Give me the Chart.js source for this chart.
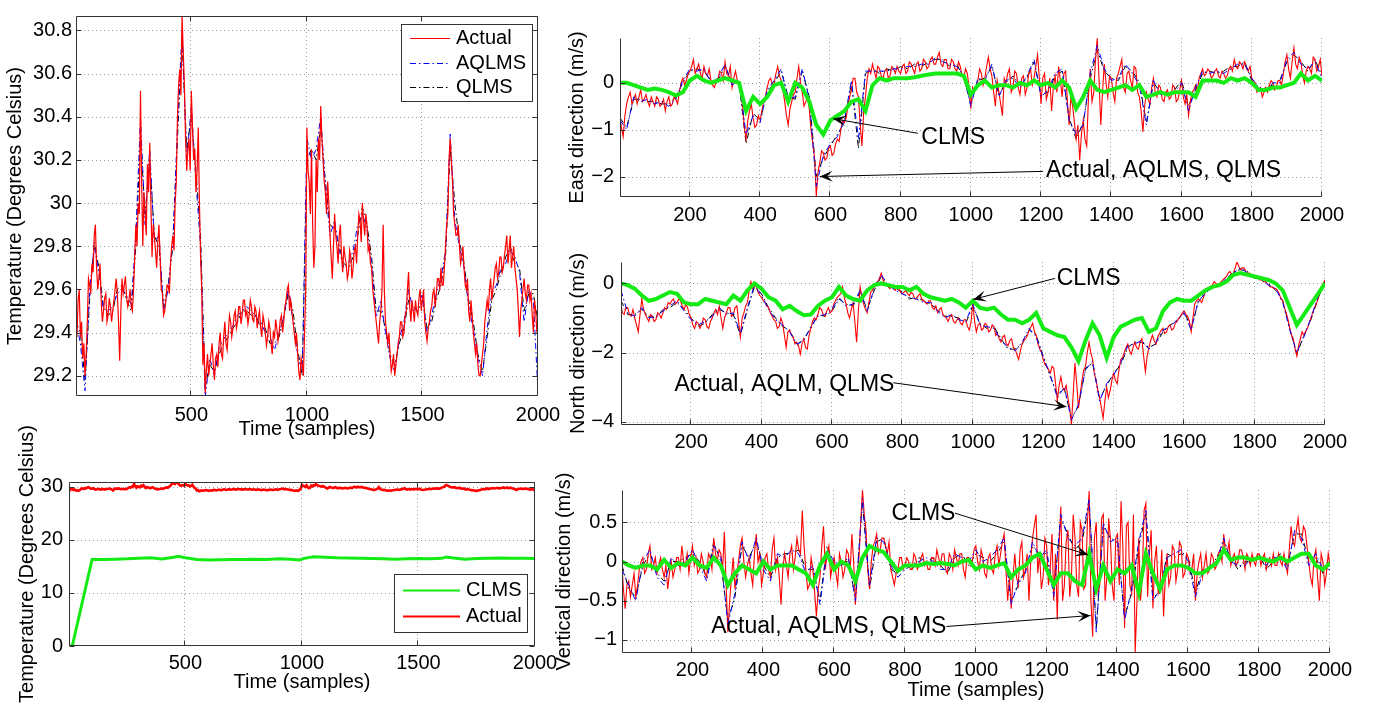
<!DOCTYPE html>
<html><head><meta charset="utf-8">
<script src="https://cdn.jsdelivr.net/npm/chart.js@4.4.1/dist/chart.umd.min.js"></script>
<style>
html,body{margin:0;padding:0;background:#fff;width:1377px;height:706px;overflow:hidden;position:relative}
canvas{position:absolute}
</style></head><body>
<canvas id="cA"></canvas><canvas id="cB"></canvas><canvas id="cE"></canvas><canvas id="cN"></canvas><canvas id="cV"></canvas>
<script>
// ---------------- DATA ----------------
// Actual series: values at samples 1,10,20,...,2000 and in-between values at samples 5,15,...,1995
const tempActual = [
29.45,29.55,29.38,29.28,29.2,29.45,29.62,29.72,29.85,29.7,
29.65,29.55,29.5,29.58,29.48,29.52,29.5,29.6,29.58,29.27,
29.65,29.62,29.56,29.55,29.52,29.6,29.9,30.0,30.52,29.8,
29.95,30.18,30.28,29.75,29.85,29.7,29.9,29.6,29.48,29.55,
29.62,29.72,29.85,30.0,30.4,30.62,30.87,30.55,30.15,30.3,
30.52,30.2,30.05,30.35,29.75,29.25,29.12,29.3,29.25,29.35,
29.18,29.3,29.35,29.3,29.38,29.35,29.4,29.45,29.42,29.5,
29.45,29.52,29.48,29.55,29.5,29.48,29.52,29.45,29.5,29.47,
29.42,29.48,29.4,29.38,29.42,29.3,29.38,29.42,29.4,29.48,
29.45,29.55,29.62,29.55,29.45,29.35,29.3,29.18,29.25,29.4,
30.35,30.1,30.25,29.7,30.2,30.3,30.45,30.2,30.05,30.1,
29.85,29.65,29.95,29.8,29.85,29.75,29.8,29.72,29.68,29.75,
29.7,29.8,29.85,29.92,30.0,29.85,29.9,29.8,29.7,29.55,
29.45,29.35,29.5,29.9,29.45,29.35,29.3,29.25,29.2,29.3,
29.38,29.45,29.4,29.5,29.68,29.45,29.5,29.55,29.48,29.6,
29.55,29.45,29.36,29.45,29.52,29.6,29.58,29.65,29.7,29.62,
29.8,29.95,30.3,30.1,29.9,29.85,29.8,29.75,29.7,29.6,
29.5,29.55,29.4,29.3,29.25,29.2,29.3,29.45,29.55,29.6,
29.55,29.65,29.72,29.68,29.75,29.7,29.8,29.72,29.85,29.75,
29.7,29.6,29.38,29.55,29.65,29.55,29.62,29.58,29.4,29.5,
29.45];
const tempActualMid = [
29.38,29.6,29.45,29.35,29.3,29.65,29.58,29.68,29.9,29.6,
29.72,29.45,29.56,29.45,29.56,29.45,29.55,29.65,29.45,29.5,
29.58,29.66,29.52,29.6,29.5,29.75,29.8,29.95,30.1,30.05,
29.85,30.05,30.0,29.9,29.78,29.82,29.75,29.58,29.5,29.62,
29.58,29.8,29.78,30.1,30.55,30.5,30.7,30.3,30.25,30.15,
30.35,30.25,30.15,30.0,29.6,29.35,29.22,29.2,29.3,29.25,
29.28,29.24,29.4,29.28,29.45,29.32,29.48,29.38,29.48,29.42,
29.52,29.44,29.55,29.48,29.44,29.55,29.46,29.52,29.42,29.5,
29.38,29.45,29.34,29.45,29.35,29.4,29.46,29.36,29.46,29.4,
29.52,29.6,29.5,29.5,29.4,29.4,29.22,29.28,29.2,29.6,
30.15,29.95,29.9,29.8,30.05,30.2,30.3,30.1,29.95,30.0,
29.75,29.8,29.85,29.72,29.9,29.68,29.75,29.65,29.78,29.65,
29.78,29.72,29.95,29.82,29.92,29.95,29.78,29.72,29.6,29.5,
29.4,29.45,29.6,29.6,29.4,29.4,29.22,29.3,29.25,29.35,
29.45,29.38,29.48,29.6,29.52,29.55,29.45,29.5,29.56,29.5,
29.6,29.4,29.42,29.5,29.58,29.52,29.65,29.6,29.62,29.7,
29.9,30.2,30.2,29.95,29.85,29.9,29.72,29.8,29.62,29.65,
29.45,29.48,29.35,29.35,29.2,29.25,29.35,29.5,29.5,29.65,
29.6,29.7,29.65,29.75,29.68,29.76,29.85,29.78,29.7,29.8,
29.65,29.5,29.5,29.6,29.58,29.62,29.55,29.48,29.55,29.4];
// Predictions every 20 samples
const tempAqlms = [
29.45,29.35,29.13,29.6,29.8,29.68,29.5,29.5,29.52,29.58,
29.6,29.57,29.53,29.85,30.4,29.9,30.25,29.82,29.85,29.5,
29.6,29.82,30.35,30.8,30.2,30.45,30.1,29.8,29.1,29.28,
29.2,29.33,29.37,29.4,29.43,29.48,29.5,29.52,29.5,29.47,
29.45,29.4,29.38,29.32,29.4,29.47,29.6,29.45,29.3,29.22,
30.3,30.2,30.25,30.4,30.08,29.85,29.92,29.78,29.7,29.72,
29.78,29.9,29.95,29.88,29.72,29.47,29.55,29.4,29.28,29.22,
29.37,29.45,29.6,29.5,29.52,29.58,29.4,29.48,29.58,29.65,
29.78,30.32,29.92,29.8,29.7,29.52,29.42,29.28,29.2,29.42,
29.58,29.62,29.7,29.72,29.78,29.75,29.68,29.45,29.6,29.55,
29.12];
const tempQlms = [
29.45,29.4,29.18,29.55,29.82,29.7,29.52,29.48,29.5,29.6,
29.62,29.55,29.5,29.8,30.3,29.95,30.2,29.85,29.8,29.52,
29.62,29.8,30.3,30.75,30.25,30.4,30.15,29.85,29.15,29.25,
29.22,29.3,29.35,29.38,29.42,29.45,29.5,29.5,29.48,29.48,
29.42,29.42,29.35,29.35,29.38,29.48,29.58,29.5,29.32,29.2,
30.2,30.25,30.2,30.35,30.1,29.9,29.88,29.8,29.72,29.7,
29.75,29.85,29.98,29.9,29.75,29.5,29.5,29.42,29.3,29.25,
29.35,29.42,29.55,29.52,29.5,29.55,29.42,29.45,29.55,29.62,
29.75,30.25,30.0,29.82,29.72,29.55,29.45,29.3,29.22,29.38,
29.55,29.6,29.68,29.75,29.8,29.72,29.7,29.5,29.58,29.58,
29.45];
// CLMS temperature estimate (bottom-left)
const tempClmsSamples = [1,15,100,150,200,250,300,350,400,450,470,500,550,600,650,700,750,800,850,900,950,990,1010,1050,1100,1150,1200,1250,1300,1350,1400,1450,1500,1550,1600,1620,1650,1700,1750,1800,1850,1900,1950,2000];
const tempClms = [0,0,16.3,16.3,16.35,16.4,16.5,16.6,16.4,16.7,16.9,16.6,16.3,16.2,16.25,16.3,16.3,16.35,16.3,16.4,16.35,16.2,16.5,16.8,16.7,16.6,16.55,16.5,16.45,16.4,16.35,16.4,16.45,16.4,16.5,16.75,16.55,16.35,16.45,16.5,16.55,16.5,16.5,16.45];

// East wind
const eastActual = [
-0.75,-1.15,-0.45,-0.2,-0.35,-0.45,-0.15,-0.35,-0.4,-0.3,
-0.5,-0.35,-0.45,-0.6,-0.3,-0.45,-0.35,-0.2,0.1,0.05,
0.25,0.5,0.3,0.2,0.35,0.15,0.05,-0.1,0.1,0.2,
0.45,0.15,-0.1,0.25,0.0,-0.5,-1.2,-0.6,-0.75,-0.9,
-0.8,-0.4,-0.1,0.1,0.0,0.35,0.05,-0.4,-0.9,-0.4,
-0.2,0.35,-0.2,-0.4,-0.55,-1.3,-2.42,-1.7,-1.5,-1.6,
-1.35,-1.5,-1.2,-1.0,-0.85,-0.5,-0.15,0.1,-0.3,-1.35,
-0.3,0.3,0.4,0.1,0.3,0.1,0.3,0.15,0.3,0.35,
0.2,0.4,0.25,0.4,0.2,0.45,0.3,0.45,0.35,0.55,
0.4,0.65,0.35,0.5,0.3,0.45,0.25,0.35,0.1,0.2,
-0.55,-0.2,0.05,0.2,0.1,0.55,0.15,-0.5,-0.2,-0.7,
0.0,0.3,-0.1,0.2,-0.25,0.15,-0.1,0.3,0.1,0.6,
-0.45,0.2,-0.2,-0.6,0.15,0.35,-0.3,0.25,-0.9,-0.5,
-1.2,-1.65,-0.8,-1.35,0.3,-0.2,0.95,-0.9,0.4,-0.3,
0.1,-0.4,0.2,0.5,-0.2,0.25,-0.1,0.3,-0.3,-1.05,
-0.2,-0.45,0.1,-0.3,-0.1,-0.4,-0.15,-0.3,-0.1,-0.35,
0.05,-0.45,-0.7,-0.2,-0.05,0.1,0.3,0.2,0.25,0.15,
0.3,0.1,0.2,0.15,0.35,0.5,0.3,0.4,0.45,0.25,
0.1,0.0,-0.15,-0.3,-0.1,-0.05,0.0,-0.1,0.05,0.2,
0.6,0.1,0.75,0.3,0.45,0.0,0.35,0.2,0.5,0.35,
0.15];
const eastActualMid = [
-0.95,-0.7,-0.3,-0.45,-0.25,-0.3,-0.4,-0.25,-0.5,-0.4,
-0.3,-0.5,-0.35,-0.4,-0.5,-0.3,-0.45,0.0,-0.05,0.2,
0.35,0.2,0.4,0.1,0.2,0.3,-0.05,0.05,0.25,0.05,
0.2,0.35,0.1,0.05,-0.2,-0.95,-0.8,-0.45,-0.95,-0.7,
-0.6,-0.3,0.05,-0.05,0.2,0.15,-0.15,-0.7,-0.55,-0.25,
0.1,0.0,-0.5,-0.3,-1.0,-1.6,-1.9,-1.45,-1.65,-1.4,
-1.55,-1.3,-1.25,-0.8,-0.75,-0.3,0.1,-0.2,-0.9,-0.6,
0.1,0.2,0.25,0.35,0.15,0.25,0.1,0.35,0.2,0.25,
0.35,0.2,0.45,0.3,0.4,0.25,0.5,0.3,0.5,0.4,
0.55,0.4,0.5,0.3,0.5,0.3,0.45,0.15,0.3,-0.1,
-0.1,-0.1,0.3,-0.05,0.35,0.3,-0.2,0.05,-0.45,0.1,
0.2,-0.2,0.25,-0.1,0.1,-0.25,0.2,-0.05,0.35,0.1,
0.1,-0.35,0.1,-0.1,-0.2,0.05,0.2,-0.4,-0.3,-0.85,
-0.9,-1.1,-1.2,-0.3,-0.4,0.5,0.1,-0.2,0.0,0.15,
-0.2,0.1,0.35,-0.1,0.2,0.05,0.35,-0.2,-0.6,-0.5,
-0.35,-0.1,-0.2,-0.05,-0.35,-0.2,-0.35,-0.05,-0.4,-0.15,
-0.3,-0.25,-0.4,-0.15,-0.2,0.2,0.15,0.3,0.1,0.25,
0.15,0.25,0.1,0.3,0.25,0.35,0.45,0.3,0.3,0.35,
0.0,-0.2,-0.1,-0.2,-0.2,0.05,-0.15,0.05,-0.05,0.45,
0.3,0.45,0.4,0.55,0.15,0.25,0.3,0.55,0.25,0.5];
const eastAqlms = [
-0.8,-1.0,-0.3,-0.4,-0.35,-0.45,-0.4,-0.5,-0.35,0.05,
0.3,0.25,0.3,0.0,0.1,0.4,-0.05,0.05,-1.1,-0.7,
-0.85,-0.15,0.05,0.3,-0.35,-0.3,0.3,-0.35,-2.2,-1.55,
-1.3,-1.15,-0.8,0.05,-1.2,0.25,0.25,0.25,0.25,0.3,
0.3,0.35,0.35,0.4,0.4,0.55,0.45,0.4,0.35,0.15,
-0.5,0.1,0.05,0.4,-0.3,0.05,0.1,-0.1,0.15,0.5,
-0.3,-0.15,0.2,0.3,-0.8,-1.1,-0.9,0.2,0.8,0.3,
0.05,0.1,0.4,0.2,-0.05,-0.9,0.05,-0.25,-0.2,-0.2,
0.0,-0.6,-0.1,0.25,0.2,0.25,0.2,0.3,0.4,0.4,
0.1,-0.1,-0.15,0.0,0.0,0.5,0.65,0.4,0.3,0.45,
0.1];
const eastQlms = [
-0.75,-0.95,-0.35,-0.35,-0.4,-0.4,-0.45,-0.45,-0.3,0.0,
0.25,0.3,0.25,0.05,0.05,0.35,0.0,0.0,-1.3,-0.65,
-0.8,-0.2,0.0,0.25,-0.3,-0.35,0.25,-0.3,-2.0,-1.6,
-1.35,-1.1,-0.85,0.0,-1.4,0.2,0.3,0.2,0.3,0.25,
0.35,0.3,0.4,0.35,0.45,0.5,0.5,0.35,0.4,0.1,
-0.45,0.05,0.1,0.35,-0.25,0.0,0.15,-0.05,0.1,0.45,
-0.25,-0.2,0.15,0.25,-0.75,-1.2,-0.85,0.1,0.7,0.25,
0.1,0.05,0.35,0.25,0.0,-0.85,0.0,-0.2,-0.25,-0.15,
0.05,-0.5,-0.15,0.2,0.25,0.2,0.25,0.35,0.35,0.45,
0.05,-0.15,-0.1,-0.05,0.05,0.45,0.6,0.45,0.25,0.5,
0.15];
const eastClms = [
0.0,0.0,-0.05,-0.1,-0.15,-0.12,-0.15,-0.2,-0.27,-0.2,
0.05,0.15,0.05,0.0,0.05,0.1,0.05,0.0,-0.6,-0.3,
-0.45,-0.3,-0.05,0.0,-0.4,0.0,-0.1,-0.4,-0.9,-1.1,
-0.8,-0.7,-0.6,-0.4,-0.35,-0.6,-0.05,0.1,0.05,0.1,
0.1,0.1,0.12,0.15,0.18,0.2,0.2,0.2,0.2,0.15,
-0.25,-0.05,0.05,-0.1,-0.05,-0.05,-0.1,0.0,-0.05,0.05,
-0.05,0.0,-0.1,0.05,-0.1,-0.55,-0.3,0.05,-0.15,-0.2,
-0.15,-0.1,-0.05,-0.15,-0.05,-0.3,-0.25,-0.2,-0.25,-0.2,
-0.2,-0.2,-0.3,0.05,0.05,0.05,0.0,0.1,0.05,0.1,
0.0,-0.15,-0.15,-0.1,-0.1,-0.05,0.0,0.2,0.05,0.15,
0.05];

// North wind
const northActual = [
-0.6,-0.9,-0.7,-0.95,-1.0,-1.4,-0.45,-0.9,-1.1,-0.95,
-1.05,-0.9,-0.85,-0.75,-0.6,-0.45,-0.55,-0.5,-0.75,-0.7,
-1.0,-1.3,-1.15,-1.2,-1.05,-1.3,-1.0,-0.75,-0.65,-1.3,
-0.85,-0.7,-0.9,-0.65,-1.55,-0.85,-0.55,0.05,-0.1,-0.25,
-0.4,-0.55,-0.7,-0.95,-1.1,-1.25,-1.15,-1.85,-1.35,-1.55,
-1.7,-2.05,-1.6,-1.9,-1.3,-1.0,-0.9,-0.75,-0.95,-0.7,
-0.8,-0.5,-0.35,-0.1,-0.6,-1.0,-0.55,-1.7,-0.1,-0.6,
-0.85,-0.25,-0.1,0.05,0.3,0.0,-0.1,-0.05,-0.2,-0.15,
-0.3,-0.2,-0.35,-0.3,-0.45,-0.3,-0.5,-0.6,-0.5,-0.75,
-0.85,-0.7,-0.95,-1.1,-0.9,-1.15,-1.0,-1.2,-1.05,-1.35,
-0.55,-1.4,-1.15,-1.3,-1.2,-1.35,-1.25,-1.45,-1.7,-1.5,
-1.8,-1.6,-1.9,-2.2,-1.75,-1.6,-1.35,-1.15,-1.5,-1.9,
-2.2,-2.4,-2.6,-2.45,-3.4,-2.7,-3.1,-3.3,-4.08,-2.3,
-3.6,-2.8,-2.4,-1.7,-2.2,-2.8,-3.3,-3.9,-3.0,-3.1,
-2.6,-2.9,-2.2,-2.0,-1.75,-2.05,-1.7,-1.9,-1.6,-2.55,
-1.85,-1.5,-1.75,-1.45,-1.3,-1.4,-1.2,-1.3,-1.1,-0.95,
-0.8,-0.95,-1.4,-0.6,-0.45,-0.55,-0.25,-0.15,-0.05,0.0,
-0.05,0.1,0.2,0.35,0.3,0.62,0.4,0.45,0.3,0.25,
0.2,0.15,0.1,0.05,-0.05,-0.1,-0.15,-0.3,-0.5,-0.85,
-1.3,-1.6,-2.1,-1.6,-1.5,-1.3,-1.0,-0.7,-0.45,-0.15,
0.1];
const northActualMid = [
-0.85,-0.7,-0.9,-0.75,-1.2,-0.9,-0.75,-1.0,-0.9,-1.1,
-0.85,-1.0,-0.7,-0.55,-0.5,-0.6,-0.45,-0.65,-0.6,-0.9,
-1.2,-1.1,-1.3,-1.0,-1.25,-1.1,-0.85,-0.9,-1.0,-1.0,
-0.7,-0.95,-0.7,-1.1,-1.0,-0.65,-0.2,-0.15,-0.05,-0.35,
-0.5,-0.65,-0.85,-1.05,-1.3,-1.0,-1.5,-1.4,-1.5,-1.75,
-1.8,-1.75,-1.85,-1.5,-1.1,-1.05,-0.7,-0.9,-0.8,-0.85,
-0.6,-0.4,-0.3,-0.4,-0.85,-0.75,-1.1,-0.8,-0.4,-0.75,
-0.55,-0.2,0.0,0.15,0.1,-0.05,-0.15,-0.15,-0.1,-0.25,
-0.25,-0.3,-0.25,-0.45,-0.35,-0.45,-0.55,-0.5,-0.7,-0.65,
-0.75,-0.9,-1.0,-0.95,-1.1,-1.05,-1.15,-1.05,-1.25,-1.1,
-1.1,-1.2,-1.35,-1.15,-1.4,-1.2,-1.5,-1.6,-1.55,-1.75,
-1.65,-1.85,-2.05,-1.95,-1.65,-1.5,-1.25,-1.4,-1.75,-2.0,
-2.35,-2.5,-2.4,-2.9,-2.95,-3.0,-2.95,-3.6,-3.2,-2.9,
-3.2,-2.5,-2.0,-2.0,-2.6,-3.1,-3.6,-3.4,-3.3,-2.8,
-2.8,-2.5,-2.15,-1.85,-1.95,-1.85,-1.85,-1.7,-2.1,-2.1,
-1.65,-1.65,-1.55,-1.35,-1.45,-1.25,-1.35,-1.15,-1.0,-0.85,
-0.9,-1.1,-1.0,-0.5,-0.5,-0.4,-0.2,-0.1,0.05,-0.05,
0.05,0.15,0.3,0.25,0.45,0.5,0.45,0.35,0.3,0.2,
0.15,0.1,0.05,0.0,-0.1,-0.15,-0.2,-0.45,-0.7,-1.05,
-1.5,-1.9,-1.8,-1.4,-1.4,-1.15,-0.85,-0.6,-0.3,0.0];
const northAqlms = [
-0.2,-0.85,-0.95,-0.7,-1.0,-0.95,-0.8,-0.65,-0.5,-0.8,
-1.05,-1.2,-1.1,-0.95,-0.7,-0.9,-0.85,-1.45,-0.7,-0.05,
-0.35,-0.75,-1.05,-1.2,-1.4,-1.75,-1.65,-1.25,-0.95,-0.9,
-0.75,-0.4,-0.65,-0.6,-0.2,-0.8,-0.15,0.25,-0.05,-0.2,
-0.3,-0.4,-0.45,-0.55,-0.55,-0.8,-1.0,-0.9,-1.05,-1.1,
-0.6,-1.2,-1.25,-1.3,-1.65,-1.85,-1.95,-1.7,-1.3,-1.55,
-2.15,-2.65,-3.3,-3.0,-3.95,-3.5,-2.5,-2.25,-3.4,-2.9,
-2.65,-2.3,-1.8,-1.75,-1.65,-1.9,-1.7,-1.35,-1.25,-1.05,
-0.85,-1.35,-0.5,-0.3,-0.1,-0.05,0.15,0.3,0.45,0.3,
0.2,0.1,-0.05,-0.15,-0.55,-1.35,-2.0,-1.55,-1.0,-0.4,
0.05];
const northQlms = [
-0.5,-0.9,-0.9,-0.75,-0.95,-1.0,-0.75,-0.7,-0.55,-0.75,
-1.0,-1.25,-1.15,-0.9,-0.75,-0.85,-0.9,-1.5,-0.75,-0.1,
-0.3,-0.7,-1.0,-1.25,-1.35,-1.8,-1.6,-1.3,-0.9,-0.95,
-0.8,-0.45,-0.6,-0.65,-0.25,-0.75,-0.2,0.2,-0.1,-0.15,
-0.25,-0.45,-0.4,-0.5,-0.6,-0.75,-0.95,-0.95,-1.0,-1.15,
-0.65,-1.15,-1.3,-1.25,-1.6,-1.9,-1.9,-1.75,-1.35,-1.5,
-2.1,-2.7,-3.2,-3.05,-3.9,-3.55,-2.45,-2.3,-3.35,-2.95,
-2.6,-2.35,-1.85,-1.7,-1.7,-1.85,-1.75,-1.4,-1.2,-1.1,
-0.8,-1.3,-0.55,-0.25,-0.15,0.0,0.1,0.35,0.4,0.35,
0.15,0.15,0.0,-0.2,-0.5,-1.3,-2.05,-1.5,-1.05,-0.45,
0.1];
const northClms = [
0.0,-0.05,-0.15,-0.35,-0.5,-0.45,-0.35,-0.25,-0.3,-0.55,
-0.6,-0.6,-0.45,-0.5,-0.55,-0.6,-0.35,-0.5,-0.2,0.0,
-0.15,-0.4,-0.5,-0.75,-0.65,-0.8,-0.92,-0.9,-0.65,-0.5,
-0.4,-0.1,-0.35,-0.45,-0.5,-0.2,-0.05,0.0,-0.05,-0.1,
-0.1,-0.2,-0.1,-0.3,-0.4,-0.45,-0.5,-0.45,-0.55,-0.7,
-0.5,-0.7,-0.75,-0.7,-0.9,-1.05,-1.05,-1.15,-1.05,-0.85,
-1.3,-1.4,-1.5,-1.55,-1.85,-2.25,-1.65,-1.15,-1.5,-2.15,
-1.55,-1.25,-1.15,-1.05,-1.0,-1.4,-1.3,-0.8,-0.55,-0.45,
-0.5,-0.5,-0.35,-0.2,-0.1,-0.05,0.05,0.25,0.3,0.25,
0.2,0.15,0.1,0.0,-0.2,-0.7,-1.2,-0.9,-0.6,-0.3,
0.0];

// Vertical wind
const vertActual = [
-0.05,-0.6,-0.25,-0.3,-0.45,-0.1,0.05,-0.1,0.2,-0.05,
-0.15,0.05,-0.2,-0.35,0.0,-0.1,0.05,0.2,-0.05,-0.15,
0.2,0.05,-0.1,0.0,-0.2,0.05,0.3,0.0,0.1,0.38,
-0.9,-0.2,-0.35,0.0,0.3,-0.2,0.05,-0.3,0.35,0.1,
-0.15,0.1,-0.2,0.3,0.05,-0.55,0.1,-0.2,0.2,0.05,
0.15,0.65,-0.1,-0.3,-0.1,-0.7,-0.2,0.45,0.1,-0.2,
0.05,-0.3,0.0,-0.1,0.1,0.35,-0.55,0.05,0.91,0.4,
-0.35,0.2,0.35,0.15,0.3,0.1,-0.1,-0.3,-0.1,0.05,
-0.05,0.0,-0.1,0.05,-0.05,0.1,0.0,-0.1,0.05,0.15,
-0.05,0.1,-0.15,0.05,0.15,-0.05,0.1,-0.2,0.05,0.0,
0.2,-0.1,0.05,-0.2,0.1,-0.15,0.2,0.1,0.35,-0.5,
-0.6,0.1,-0.3,0.25,-0.1,-0.5,0.3,0.6,0.1,-0.2,
0.2,-0.1,-0.5,-0.74,0.7,-0.3,0.4,-0.2,0.3,-0.45,
0.4,-0.3,0.9,-0.96,0.5,-0.3,0.6,-0.2,0.3,-0.5,
0.35,0.77,-0.85,0.5,-0.4,-1.16,0.3,-0.2,0.74,0.1,
-0.6,0.2,-0.3,-0.7,0.1,-0.2,0.15,-0.1,0.2,-0.15,
0.05,-0.1,-0.5,0.0,-0.2,0.1,-0.1,0.05,-0.05,0.15,
0.35,0.1,-0.05,0.1,0.0,0.15,-0.1,0.05,0.1,-0.05,
0.1,0.05,-0.1,0.05,0.1,-0.05,0.0,0.1,-0.15,0.45,
0.2,0.55,0.25,0.4,0.0,-0.3,0.15,-0.5,0.0,-0.15,
-0.05];
const vertActualMid = [
-0.35,-0.3,-0.45,-0.15,-0.3,0.0,-0.15,0.1,-0.1,0.05,
-0.05,-0.1,-0.05,-0.15,-0.2,0.05,-0.1,0.0,0.1,0.05,
-0.05,-0.15,0.1,-0.15,0.1,-0.1,0.1,0.15,-0.1,-0.3,
-0.5,0.05,-0.15,0.2,0.0,-0.05,-0.15,0.1,0.0,-0.3,
0.05,-0.1,0.15,-0.1,-0.2,-0.1,-0.05,0.1,-0.1,0.3,
0.1,0.2,-0.35,0.05,-0.4,-0.35,0.2,-0.1,0.2,-0.05,
-0.15,0.1,-0.2,0.15,-0.15,0.0,-0.2,0.5,0.6,-0.1,
0.0,0.25,0.1,0.3,0.2,0.25,-0.2,-0.15,0.05,-0.1,
0.05,-0.1,0.1,-0.1,0.05,-0.05,-0.1,0.05,-0.05,0.05,
0.1,-0.1,0.1,-0.1,0.05,0.1,-0.1,0.05,-0.05,0.15,
0.0,0.15,-0.15,0.05,-0.1,0.1,-0.05,0.25,-0.1,-0.2,
-0.2,-0.2,0.15,-0.2,0.1,0.0,0.45,-0.15,-0.35,0.3,
-0.3,0.35,0.1,0.2,-0.5,0.25,-0.45,0.6,-0.3,0.5,
-0.35,0.5,-0.5,0.3,-0.4,0.55,-0.5,0.55,-0.3,0.3,
-0.3,0.2,0.45,-0.3,0.6,-0.5,-0.5,0.65,-0.45,0.4,
0.0,-0.4,0.15,-0.2,-0.3,0.2,-0.25,0.25,-0.2,0.1,
-0.15,0.1,-0.15,0.1,-0.05,-0.15,0.1,-0.1,0.1,0.0,
0.1,0.25,0.05,-0.05,0.15,0.05,0.1,-0.05,0.0,0.1,
-0.05,0.1,0.0,-0.05,-0.05,0.1,-0.05,-0.05,0.15,0.25,
0.4,0.3,0.45,0.2,-0.2,0.05,-0.2,0.1,-0.3,0.1];
const vertAqlms = [
-0.1,-0.3,-0.5,0.0,0.15,-0.2,-0.3,0.05,-0.05,0.0,
0.15,-0.05,-0.25,0.2,0.05,-0.8,-0.4,0.25,0.0,0.3,
-0.1,-0.25,0.1,0.05,0.15,0.1,-0.15,-0.05,-0.55,0.15,
0.0,-0.05,0.05,-0.5,0.8,-0.3,0.3,0.25,-0.05,-0.2,
-0.1,-0.05,0.0,0.05,0.0,-0.1,-0.1,0.1,0.05,0.0,
0.15,0.0,0.05,0.15,0.3,-0.55,-0.25,-0.15,0.25,0.05,
0.15,-0.45,0.6,0.3,0.2,0.3,0.8,-0.9,0.5,0.25,
0.3,-0.75,-0.35,0.25,0.65,-0.5,-0.35,0.05,0.1,0.15,
0.0,-0.45,-0.15,-0.05,0.0,0.3,0.0,-0.05,-0.05,0.05,
0.05,-0.05,0.05,0.05,-0.1,0.4,0.3,-0.05,0.1,-0.1,
-0.1];
const vertQlms = [
-0.05,-0.35,-0.45,-0.05,0.1,-0.15,-0.25,0.0,0.0,0.05,
0.1,0.0,-0.2,0.25,0.0,-0.75,-0.45,0.2,0.05,0.25,
-0.05,-0.2,0.05,0.1,0.1,0.15,-0.1,-0.1,-0.5,0.2,
-0.05,0.0,0.0,-0.45,0.75,-0.35,0.25,0.3,-0.1,-0.15,
-0.05,-0.1,0.05,0.0,0.05,-0.05,-0.15,0.05,0.1,-0.05,
0.1,0.05,0.0,0.1,0.25,-0.5,-0.3,-0.1,0.2,0.1,
0.1,-0.4,0.55,0.35,0.15,0.25,0.75,-0.85,0.45,0.3,
0.25,-0.7,-0.4,0.2,0.6,-0.45,-0.4,0.1,0.05,0.1,
0.05,-0.4,-0.1,-0.1,0.05,0.25,0.05,-0.1,0.0,0.0,
0.1,-0.1,0.0,0.1,-0.05,0.35,0.35,0.0,0.05,-0.15,
-0.05];
const vertClms = [
0.0,-0.05,-0.08,-0.05,-0.05,-0.1,0.02,-0.08,-0.02,-0.05,
0.05,-0.05,-0.08,0.05,-0.05,-0.3,-0.15,-0.05,-0.1,-0.15,
0.0,-0.1,-0.05,-0.05,-0.05,-0.1,-0.15,-0.3,-0.05,0.1,
-0.1,0.0,-0.05,-0.25,0.05,0.2,0.15,0.12,0.0,-0.12,
-0.05,-0.05,-0.05,-0.02,-0.03,-0.02,-0.03,-0.05,0.0,0.02,
-0.1,-0.05,-0.08,-0.05,-0.02,-0.2,-0.1,-0.05,0.05,0.1,
-0.1,-0.3,-0.15,-0.15,-0.25,-0.3,0.1,-0.35,-0.05,-0.25,
-0.1,-0.15,-0.05,-0.4,0.1,-0.15,-0.35,-0.1,-0.05,-0.05,
-0.08,-0.15,-0.15,-0.08,-0.02,0.15,0.02,0.05,0.05,0.02,
0.05,0.02,0.0,0.05,0.0,0.05,0.1,0.1,-0.05,-0.1,
-0.02];

// Tick labels
const tempTicksX = [500,1000,1500,2000];
const tempTicksY = [29.2,29.4,29.6,29.8,30,30.2,30.4,30.6,30.8];
const tempBTicksY = [0,10,20,30];
const windTicksX = [200,400,600,800,1000,1200,1400,1600,1800,2000];
const eastTicksY = [-2,-1,0];
const northTicksY = [-4,-2,0];
const vertTicksY = [-1,-0.5,0,0.5];

// Annotations (data coordinates: [sample, value])
const eastNotes = [
  {text:'CLMS', at:[859,-1.18], from:[849,-1.077], to:[608,-0.765]},
  {text:'Actual, AQLMS, QLMS', at:[1214,-1.875], from:[1206,-1.89], to:[570,-2.0]}
];
const northNotes = [
  {text:'CLMS', at:[1238,0.145], from:[1233,0.145], to:[1001,-0.462]},
  {text:'Actual, AQLM, QLMS', at:[153,-2.92], from:[774,-2.873], to:[1266,-3.566]}
];
const vertNotes = [
  {text:'CLMS', at:[762,0.608], from:[941,0.617], to:[1317,0.085]},
  {text:'Actual, AQLMS, QLMS', at:[253,-0.836], from:[917,-0.828], to:[1324,-0.688]}
];

// ---------------- RENDER ----------------
const FONT = '"Liberation Sans", Arial, Helvetica, sans-serif';
Chart.defaults.font.family = FONT;
Chart.defaults.color = '#000';

function sampleGrid(start, step){ const a = start===1 ? [1] : []; for(let s=(start===1?step:start); s<=2000; s+=step) a.push(s); return a; }
const s10 = sampleGrid(1,10), s5 = sampleGrid(5,10), s20 = sampleGrid(1,20);
function pts(xs, ys){ return ys.map((v,i)=>({x:xs[i], y:v})); }
function merged(xa, ya, xb, yb){ return pts(xa, ya).concat(pts(xb, yb)).sort((p,q)=>p.x-q.x); }
function fmt(v){ const r = Math.round(v*100)/100; if (r === 0) return '0'; return (r<0?'\u2212':'') + String(Math.abs(r)); }

const RED='#ff0000', BLUE='#0000ff', BLACK='#000000', GREEN='rgb(20,235,20)';
const DASHDOT=[6,3,1.5,3];

const matAxes = {
  id:'matAxes',
  beforeDatasetsDraw(chart, _a, o){
    const {ctx, chartArea:a, scales:{x,y}} = chart;
    ctx.save();
    ctx.beginPath(); ctx.rect(a.left, a.top-1, a.right-a.left+1, a.bottom-a.top+1); ctx.clip();
    ctx.strokeStyle = o.gridColor; ctx.lineWidth = 1; ctx.setLineDash([1,3]);
    ctx.beginPath();
    for (const t of x.ticks){ const p = Math.round(x.getPixelForValue(t.value))-0.5; ctx.moveTo(p, a.top); ctx.lineTo(p, a.bottom); }
    for (const t of y.ticks){ const p = Math.round(y.getPixelForValue(t.value))+0.5; ctx.moveTo(a.left, p); ctx.lineTo(a.right, p); }
    ctx.stroke(); ctx.restore();
  },
  afterDatasetsDraw(chart, _a, o){
    const {ctx, chartArea:a, scales:{x,y}} = chart;
    const L=Math.round(a.left)+0.5, R=Math.round(a.right)-0.5, T=Math.round(a.top)+0.5, B=Math.round(a.bottom)-0.5;
    ctx.save(); ctx.setLineDash([]); ctx.strokeStyle = o.axisColor; ctx.lineWidth = 1;
    ctx.beginPath();
    ctx.moveTo(L,T); ctx.lineTo(L,B); ctx.lineTo(R,B);
    if (o.box){ ctx.lineTo(R,T); ctx.lineTo(L,T); }
    const k = o.tickLen;
    for (const t of x.ticks){ const p=Math.round(x.getPixelForValue(t.value))-0.5; ctx.moveTo(p,B); ctx.lineTo(p,B-k); if(o.box){ctx.moveTo(p,T); ctx.lineTo(p,T+k);} }
    for (const t of y.ticks){ const p=Math.round(y.getPixelForValue(t.value))+0.5; ctx.moveTo(L,p); ctx.lineTo(L+k,p); if(o.box){ctx.moveTo(R,p); ctx.lineTo(R-k,p);} }
    ctx.stroke(); ctx.restore();
  }
};

const matLegend = {
  id:'matLegend',
  afterDatasetsDraw(chart, _a, o){
    if (!o.items) return;
    const {ctx, chartArea:a} = chart;
    const x0 = Math.round(a.right - o.right - o.w);
    const y0 = Math.round(o.top != null ? a.top + o.top : a.bottom - o.bottom - o.h);
    ctx.save();
    ctx.fillStyle = '#fff'; ctx.fillRect(x0, y0, o.w, o.h);
    ctx.strokeStyle = '#333'; ctx.lineWidth = 1; ctx.setLineDash([]); ctx.strokeRect(x0+0.5, y0+0.5, o.w, o.h);
    const rowH = (o.h - 2*o.pad)/o.items.length;
    o.items.forEach((di,i)=>{
      const ds = chart.data.datasets[di];
      const cy = Math.round(y0 + o.pad + rowH*(i+0.5)) + 0.5;
      ctx.strokeStyle = ds.borderColor; ctx.lineWidth = Math.min(ds.borderWidth, 2); ctx.setLineDash(ds.borderDash || []);
      ctx.beginPath(); ctx.moveTo(x0+o.lineX0, cy); ctx.lineTo(x0+o.lineX1, cy); ctx.stroke();
      ctx.setLineDash([]);
      ctx.fillStyle = '#000'; ctx.font = o.fontSize + 'px ' + FONT; ctx.textBaseline = 'middle'; ctx.textAlign = 'left';
      ctx.fillText(ds.label, x0+o.textX, cy);
    });
    ctx.restore();
  }
};

const matNotes = {
  id:'matNotes',
  afterDatasetsDraw(chart, _a, o){
    if (!o.items) return;
    const {ctx, scales:{x,y}} = chart;
    const px = v => x.getPixelForValue(v), py = v => y.getPixelForValue(v);
    ctx.save();
    o.items.forEach(n=>{
      const x0=px(n.from[0]), y0=py(n.from[1]), x1=px(n.to[0]), y1=py(n.to[1]);
      ctx.strokeStyle='#000'; ctx.lineWidth=1; ctx.setLineDash([]);
      ctx.beginPath(); ctx.moveTo(x0,y0); ctx.lineTo(x1,y1); ctx.stroke();
      const ang=Math.atan2(y1-y0,x1-x0), Lh=13, W=5.5, ux=Math.cos(ang), uy=Math.sin(ang);
      ctx.beginPath();
      ctx.moveTo(x1,y1);
      ctx.lineTo(x1-Lh*ux-W*uy, y1-Lh*uy+W*ux);
      ctx.lineTo(x1-0.55*Lh*ux, y1-0.55*Lh*uy);
      ctx.lineTo(x1-Lh*ux+W*uy, y1-Lh*uy-W*ux);
      ctx.closePath(); ctx.fillStyle='#000'; ctx.fill();
      ctx.font = o.fontSize+'px '+FONT; ctx.textBaseline='middle'; ctx.textAlign='left'; ctx.fillStyle='#000';
      ctx.fillText(n.text, px(n.at[0]), py(n.at[1]));
    });
    ctx.restore();
  }
};

function line(label, data, color, width, dash, order){
  return {label, data, borderColor: color, borderWidth: width, borderDash: dash||[], pointRadius:0, fill:false, order, clip:0, tension:0};
}

function makeChart(id, s){
  const cv = document.getElementById(id);
  cv.width = s.w; cv.height = s.h;
  cv.style.left = s.left+'px'; cv.style.top = s.top+'px';
  return new Chart(cv, {
    type:'line',
    data:{datasets:s.datasets},
    options:{
      responsive:false, animation:false, devicePixelRatio:1, events:[],
      layout:{autoPadding:false, padding:{left:0, top:s.padTop, right:s.padRight, bottom:0}},
      plugins:{
        legend:{display:false}, tooltip:{enabled:false},
        matAxes:{box:s.box, tickLen:5, gridColor:'#9a9a9a', axisColor:'#333'},
        matLegend: s.legend || {},
        matNotes:{items:s.notes, fontSize:23}
      },
      scales:{
        x:{type:'linear', min:1, max:2000,
          afterBuildTicks: sc => { sc.ticks = s.xTicks.map(v=>({value:v})); },
          afterFit: sc => { sc.height = s.xAxisH; },
          grid:{display:false, drawTicks:false}, border:{display:false},
          ticks:{font:{size:20}, color:'#000', padding:s.xTickPad, maxRotation:0, autoSkip:false, callback:v=>fmt(v)},
          title: s.xTitle ? {display:true, text:s.xTitle, font:{size:20}, color:'#000', padding:{top:0, bottom:s.xTitlePad}} : {display:false}
        },
        y:{type:'linear', min:s.yMin, max:s.yMax,
          afterBuildTicks: sc => { sc.ticks = s.yTicks.map(v=>({value:v})); },
          afterFit: sc => { sc.width = s.yAxisW; },
          grid:{display:false, drawTicks:false}, border:{display:false},
          ticks:{font:{size:20}, color:'#000', padding:s.yTickPad, autoSkip:false, callback:v=>fmt(v)},
          title:{display:true, text:s.yTitle, font:{size:20}, color:'#000', padding:{top:s.yTitlePad, bottom:0}}
        }
      }
    },
    plugins:[matAxes, matLegend, matNotes]
  });
}

const tempActualPts = merged(s10, tempActual, s5, tempActualMid);

// Top-left: temperature predictions
makeChart('cA', {
  left:0, top:0, w:568, h:446, padTop:4, padRight:30, yAxisW:76, xAxisH:50,
  box:true, yMin:29.106, yMax:30.867, xTicks:tempTicksX, yTicks:tempTicksY,
  xTickPad:7, yTickPad:4, xTitle:'Time (samples)', xTitlePad:5,
  yTitle:'Temperature (Degrees Celsius)', yTitlePad:3.5,
  datasets:[
    line('Actual', tempActualPts, RED, 1.2, [], 1),
    line('AQLMS', pts(s20, tempAqlms), BLUE, 1, DASHDOT, 2),
    line('QLMS', pts(s20, tempQlms), BLACK, 1, DASHDOT, 3)
  ],
  legend:{items:[0,1,2], right:6, top:8, w:131, h:77, pad:2, lineX0:9, lineX1:49, textX:55, fontSize:20}
});

// Bottom-left: CLMS vs actual
makeChart('cB', {
  left:0, top:420, w:565, h:286, padTop:62, padRight:30, yAxisW:69, xAxisH:60,
  box:true, yMin:0, yMax:30.87, xTicks:tempTicksX, yTicks:tempBTicksY,
  xTickPad:5, yTickPad:6, xTitle:'Time (samples)', xTitlePad:12,
  yTitle:'Temperature (Degrees Celsius)', yTitlePad:15,
  datasets:[
    line('CLMS', pts(tempClmsSamples, tempClms), GREEN, 3, [], 2),
    line('Actual', tempActualPts, RED, 2.6, [], 1)
  ],
  legend:{items:[0,1], right:8, bottom:14, w:133, h:58, pad:3, lineX0:9, lineX1:66, textX:72, fontSize:20}
});

function windSets(act, actMid, aq, q, cl){
  return [
    line('Actual', merged(s10, act, s5, actMid), RED, 1.1, [], 3),
    line('AQLMS', pts(s20, aq), BLUE, 1, DASHDOT, 2),
    line('QLMS', pts(s20, q), BLACK, 1, DASHDOT, 4),
    line('CLMS', pts(s20, cl), GREEN, 4, [], 1)
  ];
}

makeChart('cE', {
  left:550, top:20, w:802, h:212, padTop:14, padRight:30, yAxisW:70, xAxisH:35,
  box:false, yMin:-2.4375, yMax:0.958, xTicks:windTicksX, yTicks:eastTicksY,
  xTickPad:6, yTickPad:6, xTitle:null, yTitle:'East direction (m/s)', yTitlePad:15,
  datasets: windSets(eastActual, eastActualMid, eastAqlms, eastQlms, eastClms), notes: eastNotes
});

makeChart('cN', {
  left:550, top:240, w:805, h:220, padTop:22, padRight:30, yAxisW:71, xAxisH:35,
  box:false, yMin:-4.095, yMax:0.62, xTicks:windTicksX, yTicks:northTicksY,
  xTickPad:5, yTickPad:7, xTitle:null, yTitle:'North direction (m/s)', yTitlePad:16,
  datasets: windSets(northActual, northActualMid, northAqlms, northQlms, northClms), notes: northNotes
});

makeChart('cV', {
  left:545, top:465, w:815, h:241, padTop:25, padRight:30, yAxisW:77, xAxisH:53,
  box:false, yMin:-1.166, yMax:0.912, xTicks:windTicksX, yTicks:vertTicksY,
  xTickPad:5, yTickPad:5, xTitle:'Time (samples)', xTitlePad:4,
  yTitle:'Vertical direction (m/s)', yTitlePad:7,
  datasets: windSets(vertActual, vertActualMid, vertAqlms, vertQlms, vertClms), notes: vertNotes
});
</script>
</body></html>
